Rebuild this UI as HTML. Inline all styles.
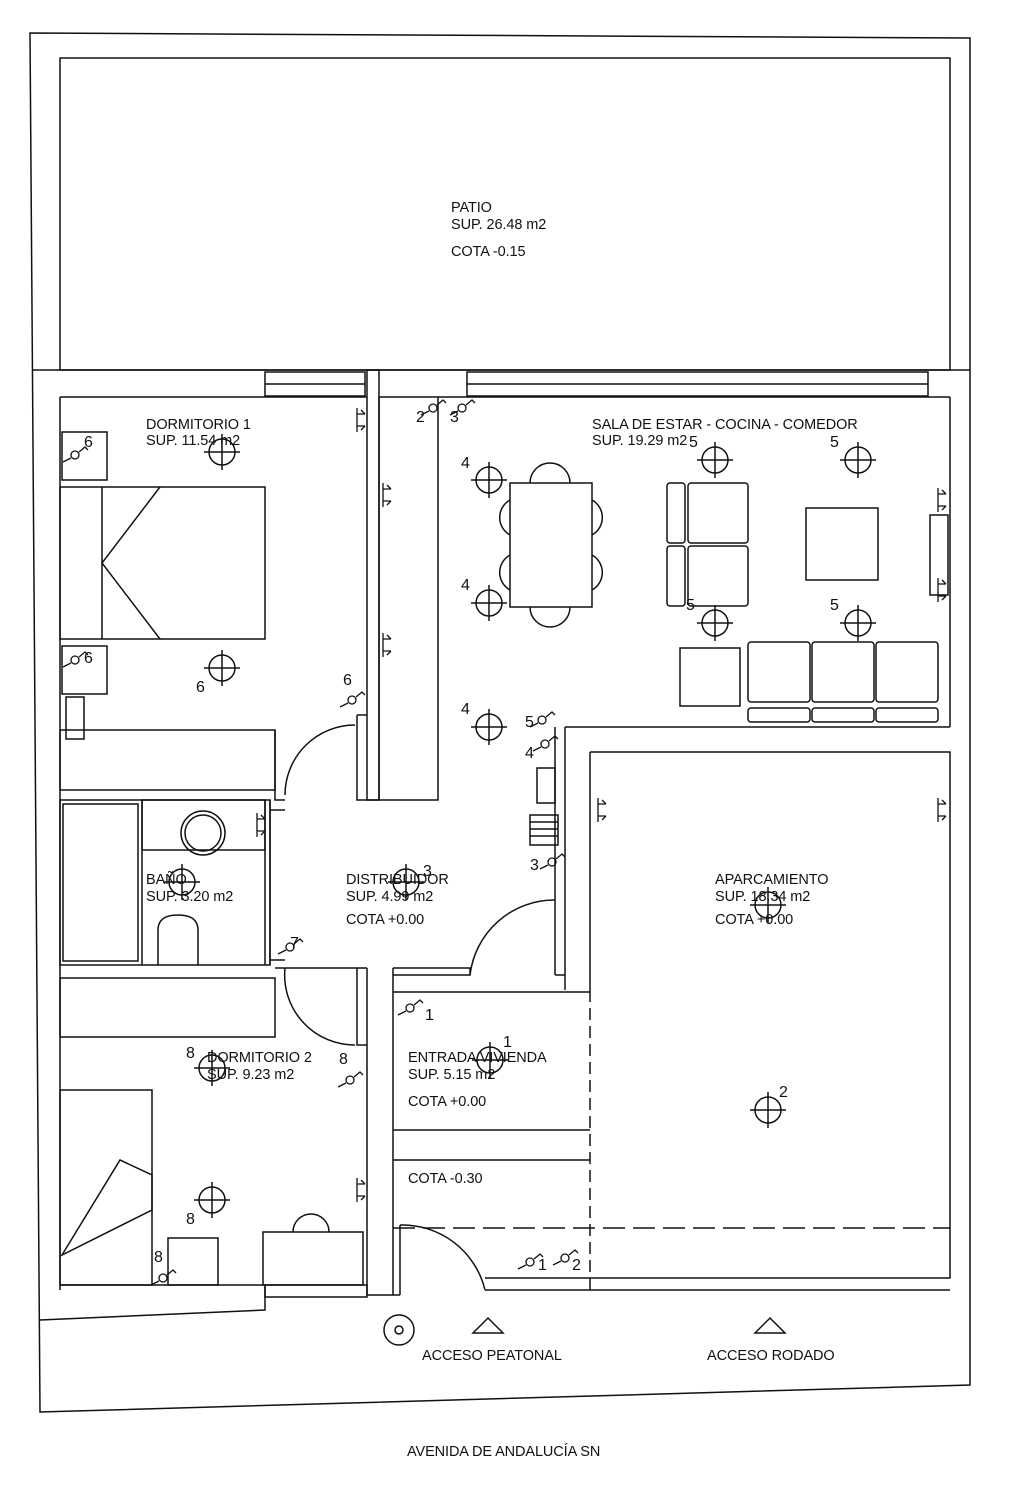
<!DOCTYPE html>
<html><head><meta charset="utf-8"><style>
html,body{margin:0;padding:0;background:#fff}
svg{display:block}
text{font-family:"Liberation Sans",sans-serif;font-size:14.5px;fill:#111;letter-spacing:-0.1px}
.n{font-size:16px;letter-spacing:0}
</style></head><body>
<svg width="1019" height="1500" viewBox="0 0 1019 1500" xmlns="http://www.w3.org/2000/svg">
<defs>
<g id="L"><circle r="13" fill="none" stroke="#111" stroke-width="1.5"/><line x1="-18" y1="0" x2="18" y2="0" stroke="#111" stroke-width="1.5"/><line x1="0" y1="-18" x2="0" y2="18" stroke="#111" stroke-width="1.5"/></g>
<g id="S" fill="none" stroke="#111" stroke-width="1.3"><circle r="4"/><path d="M-4,3 L-12,7 M4,-3 L10,-8 L13,-5"/></g>
<g id="P" fill="none" stroke="#111" stroke-width="1.3"><path d="M0,-12 V12 M0,-6 h8 M0,6 h8 M4,-10 l4,4 M4,10 l4,-4"/></g>
</defs>
<g fill="none" stroke="#111" stroke-width="1.5">
<path d="M30,33 L970,38 L970,1385 L40,1412 Z"/>
<line x1="33" y1="370" x2="970" y2="370"/>
<rect x="60" y="58" width="890" height="312"/>
<rect x="265" y="372" width="100" height="24"/><line x1="265" y1="384" x2="365" y2="384"/>
<rect x="467" y="372" width="461" height="24"/><line x1="467" y1="384" x2="928" y2="384"/>
<line x1="60" y1="397" x2="367" y2="397"/><line x1="438" y1="397" x2="950" y2="397"/>
<line x1="60" y1="397" x2="60" y2="1290"/>
<line x1="950" y1="397" x2="950" y2="727"/>
<path d="M565,727 H950 M565,727 V990 M555,727 V975 M555,975 H565"/>
<rect x="367" y="370" width="12" height="430"/><rect x="379" y="397" width="59" height="403"/>
<path d="M357,715 V800 H379 M357,715 H367"/>
<rect x="60" y="487" width="205" height="152"/><line x1="102" y1="487" x2="102" y2="639"/>
<path d="M160,487 L102,563 L160,639"/>
<rect x="62" y="432" width="45" height="48"/><rect x="62" y="646" width="45" height="48"/>
<rect x="60" y="730" width="215" height="60"/>
<path d="M275,730 V800 H285 M285,795 A70,70 0 0 1 355,725"/>
<rect x="66" y="697" width="18" height="42"/>
<rect x="60" y="800" width="210" height="165"/>
<rect x="63" y="804" width="75" height="157"/><line x1="142" y1="800" x2="142" y2="965"/>
<rect x="142" y="800" width="123" height="50"/><circle cx="203" cy="833" r="22"/><circle cx="203" cy="833" r="18"/>
<path d="M158,965 V930 Q158,915 178,915 Q198,915 198,930 V965"/>
<path d="M265,800 V965 M270,800 V965 M270,810 H285 M270,960 H285"/>
<rect x="60" y="978" width="215" height="59"/>
<path d="M285,968 A70,70 0 0 0 355,1045 M275,968 H367 M357,968 V1045 H367"/>
<rect x="60" y="1090" width="92" height="195"/><path d="M62,1255 L120,1160 L152,1175 L152,1210 Z"/>
<rect x="168" y="1238" width="50" height="47"/>
<rect x="263" y="1232" width="100" height="53"/><path d="M293,1232 A18,18 0 0 1 329,1232"/>
<path d="M40,1320 L265,1310 V1285 H60"/>
<rect x="265" y="1285" width="102" height="12"/>
<path d="M367,968 V1295 H400 M393,968 V1295"/>
<path d="M400,1295 V1225 M400,1225 A85,85 0 0 1 485,1290"/>
<path d="M485,1278 H950 V1275 M485,1290 H950 M590,1278 V1290"/>
<path d="M393,975 H470 V968 H393 M470,975 A85,85 0 0 1 555,900 M393,992 H590 M393,1130 H590 M393,1160 H590"/>
<path d="M590,752 H950 V1275 M590,752 V990"/>
<path d="M590,990 V1275" stroke-dasharray="12,6"/>
<path d="M393,1228 H950" stroke-dasharray="22,8"/>
<rect x="510" y="483" width="82" height="124"/>
<path d="M530,483 A20,20 0 0 1 570,483 M530,607 A20,20 0 0 0 570,607 M510,500 A20,20 0 0 0 510,535 M510,555 A20,20 0 0 0 510,590 M592,500 A20,20 0 0 1 592,535 M592,555 A20,20 0 0 1 592,590"/>
<rect x="667" y="483" width="18" height="60" rx="3"/><rect x="667" y="546" width="18" height="60" rx="3"/>
<rect x="688" y="483" width="60" height="60" rx="3"/><rect x="688" y="546" width="60" height="60" rx="3"/>
<rect x="806" y="508" width="72" height="72"/>
<rect x="680" y="648" width="60" height="58"/>
<rect x="748" y="642" width="62" height="60" rx="3"/><rect x="812" y="642" width="62" height="60" rx="3"/><rect x="876" y="642" width="62" height="60" rx="3"/>
<rect x="748" y="708" width="62" height="14" rx="3"/><rect x="812" y="708" width="62" height="14" rx="3"/><rect x="876" y="708" width="62" height="14" rx="3"/>
<rect x="930" y="515" width="18" height="80"/>
<rect x="537" y="768" width="18" height="35"/><rect x="530" y="815" width="28" height="30"/>
<path d="M530,822 H558 M530,829 H558 M530,836 H558"/>
<circle cx="399" cy="1330" r="15"/><circle cx="399" cy="1330" r="4"/>
<path d="M473,1333 L488,1318 L503,1333 Z M755,1333 L770,1318 L785,1333 Z"/>
</g>
<g>
<use href="#L" x="222" y="452"/><use href="#L" x="222" y="668"/><use href="#L" x="715" y="460"/><use href="#L" x="858" y="460"/>
<use href="#L" x="489" y="480"/><use href="#L" x="489" y="603"/><use href="#L" x="715" y="623"/><use href="#L" x="858" y="623"/>
<use href="#L" x="489" y="727"/><use href="#L" x="406" y="882"/><use href="#L" x="182" y="882"/><use href="#L" x="768" y="905"/>
<use href="#L" x="212" y="1068"/><use href="#L" x="490" y="1060"/><use href="#L" x="768" y="1110"/><use href="#L" x="212" y="1200"/>
<use href="#S" x="433" y="408"/><use href="#S" x="462" y="408"/><use href="#S" x="352" y="700"/><use href="#S" x="542" y="720"/><use href="#S" x="545" y="744"/><use href="#S" x="552" y="862"/><use href="#S" x="290" y="947"/><use href="#S" x="410" y="1008"/><use href="#S" x="350" y="1080"/><use href="#S" x="75" y="455"/><use href="#S" x="75" y="660"/><use href="#S" x="163" y="1278"/><use href="#S" x="530" y="1262"/><use href="#S" x="565" y="1258"/>
<use href="#P" x="357" y="420"/><use href="#P" x="383" y="495"/><use href="#P" x="383" y="645"/><use href="#P" x="257" y="825"/><use href="#P" x="598" y="810"/><use href="#P" x="938" y="810"/><use href="#P" x="357" y="1190"/><use href="#P" x="938" y="500"/><use href="#P" x="938" y="590"/>
</g>
<text x="451" y="212">PATIO</text><text x="451" y="229">SUP. 26.48 m2</text><text x="451" y="256">COTA -0.15</text>
<text x="146" y="429">DORMITORIO 1</text><text x="146" y="445">SUP. 11.54 m2</text>
<text x="592" y="429">SALA DE ESTAR - COCINA - COMEDOR</text><text x="592" y="445">SUP. 19.29 m2</text>
<text x="146" y="884">BAÑO</text><text x="146" y="901">SUP. 3.20 m2</text>
<text x="346" y="884">DISTRIBUIDOR</text><text x="346" y="901">SUP. 4.99 m2</text><text x="346" y="924">COTA +0.00</text>
<text x="715" y="884">APARCAMIENTO</text><text x="715" y="901">SUP. 18.34 m2</text><text x="715" y="924">COTA +0.00</text>
<text x="207" y="1062">DORMITORIO 2</text><text x="207" y="1079">SUP. 9.23 m2</text>
<text x="408" y="1062">ENTRADA VIVIENDA</text><text x="408" y="1079">SUP. 5.15 m2</text><text x="408" y="1106">COTA +0.00</text>
<text x="408" y="1183">COTA -0.30</text>
<text x="422" y="1360">ACCESO PEATONAL</text><text x="707" y="1360">ACCESO RODADO</text>
<text x="407" y="1456">AVENIDA DE ANDALUCÍA SN</text>
<g>
<text class="n" x="84" y="447">6</text><text class="n" x="84" y="663">6</text><text class="n" x="196" y="692">6</text><text class="n" x="343" y="685">6</text>
<text class="n" x="416" y="422">2</text><text class="n" x="450" y="422">3</text>
<text class="n" x="461" y="468">4</text><text class="n" x="461" y="590">4</text><text class="n" x="461" y="714">4</text><text class="n" x="525" y="727">5</text><text class="n" x="525" y="758">4</text>
<text class="n" x="689" y="447">5</text><text class="n" x="830" y="447">5</text><text class="n" x="686" y="610">5</text><text class="n" x="830" y="610">5</text>
<text class="n" x="530" y="870">3</text><text class="n" x="423" y="876">3</text><text class="n" x="290" y="948">7</text>
<text class="n" x="425" y="1020">1</text><text class="n" x="503" y="1047">1</text><text class="n" x="779" y="1097">2</text>
<text class="n" x="186" y="1058">8</text><text class="n" x="339" y="1064">8</text><text class="n" x="186" y="1224">8</text><text class="n" x="154" y="1262">8</text>
<text class="n" x="538" y="1270">1</text><text class="n" x="572" y="1270">2</text>
</g>
</svg>
</body></html>
